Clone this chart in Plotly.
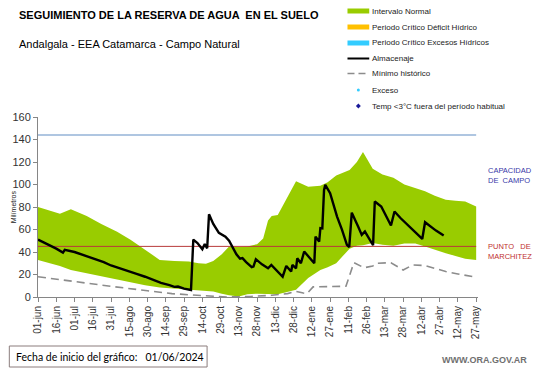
import plotly.graph_objects as go

# ---------------- data ----------------
TICK_DAYS = list(range(0, 361, 15))
TICK_LABELS = ["01-jun", "16-jun", "01-jul", "16-jul", "31-jul", "15-ago", "30-ago",
               "14-sep", "29-sep", "14-oct", "29-oct", "13-nov", "28-nov", "13-dic",
               "28-dic", "12-ene", "27-ene", "11-feb", "26-feb", "13-mar", "28-mar",
               "12-abr", "27-abr", "12-may", "27-may"]

BAND_DAYS = [0, 10, 18, 27, 40, 52, 65, 76, 88, 100, 112, 124, 132, 138, 144, 151, 157,
             165, 172, 180, 185, 189, 192, 197, 203, 212, 222, 232, 238, 245, 256, 262,
             267, 275, 283, 292, 301, 310, 318, 326, 335, 343, 351, 360]
BAND_UPPER = [80, 77, 74, 78, 72, 65, 58, 51, 42, 33, 32, 31.5, 30, 29.5, 32, 38, 45,
              44.5, 45, 47, 52, 68, 72, 73, 85, 103, 98, 99, 102, 108, 113, 120,
              129, 114, 109, 106, 100, 97, 94, 90, 86.5, 85.5, 85, 80.5]
BAND_LOWER = [33, 30, 27.5, 24, 21, 18.5, 15.5, 13, 10.5, 8.5, 7.5, 6.5, 6, 6, 5, 3, 1.5,
              0.5, 2.5, 3, 3, 3, 3, 2.5, 4, 6.5, 17, 24, 26.5, 30, 43, 45.5,
              46, 48, 46.5, 45.5, 47.5, 47.5, 45, 42.5, 39, 36.5, 34, 33]

MIN_DAYS = [0, 30, 60, 90, 110, 124, 140, 155, 175, 192, 205, 212, 218, 221, 226, 250,
            253, 259.5, 268, 275, 278, 290, 300, 308, 318, 326, 335, 345, 360]
MIN_VALS = [18, 13.5, 9.5, 5.5, 3, 2, 1, 0, 0.5, 1.5, 3, 5, 3.5, 3, 9, 9,
            9.5, 30.5, 26, 27.5, 30, 30.5, 24, 28.5, 28, 25.5, 22.6, 20.5, 17.5]

ALM_DAYS = [0, 5, 10, 15, 20.5, 22, 30, 40.7, 47, 54, 60, 67.7, 75, 81, 88, 94.7, 101,
            108, 112, 115, 120, 125.7, 127.6, 131, 135, 137, 138, 139, 140.5, 144,
            148.6, 152, 154, 157, 160, 163, 166, 168, 171, 175.6, 177, 179, 184, 189,
            191.7, 196, 201, 204, 208, 209, 212, 213, 216, 218.7, 223, 227, 228, 231,
            232, 233.6, 235, 236, 240, 245.7, 249.8, 253.8, 255.7, 257.8, 263, 266,
            268.6, 274, 275.3, 276.7, 282, 290, 292.9, 298, 315.7, 318, 324, 327, 333.3]
ALM_VALS = [51, 48.5, 46, 43, 39.5, 42, 40, 36, 34, 31, 28, 25, 22.5, 20.5, 18, 15, 12.5,
            10.5, 9, 9.3, 7.5, 6.2, 51, 48, 42.5, 47, 45, 43.3, 73.6, 65,
            57, 55, 53.7, 50, 44.5, 38, 34, 34.5, 31, 26.5, 27, 33.6, 29, 25.5,
            28.5, 24, 18, 27.6, 22.6, 28.5, 25.5, 34.4, 30, 40.4, 35, 30, 53.7, 49.3,
            61.2, 61, 95, 99.7, 92.3, 71.5, 59.7, 46.3, 44.3, 75, 62.6, 55.2,
            58.2, 47.8, 46, 84.9, 80.4, 63.5, 76, 70, 51.6, 66.5, 61.2, 59, 54.6]

CAPACIDAD_CAMPO = 144
PUNTO_MARCHITEZ = 45
X_MAX = 360

LEGEND_ITEMS = ["Intervalo Normal", "Periodo Crítico Déficit Hídrico",
                "Periodo Crítico Excesos Hídricos", "Almacenaje", "Mínimo histórico",
                "Exceso", "Temp <3°C fuera del período habitual"]

# ---------------- layout helpers ----------------
W, H = 541, 368
L, R, T, B = 33, 63, 117, 71
PW, PH = W - L - R, H - T - B


def px(x):
    return (x - L) / PW


def py(y):
    return (H - B - y) / PH


GREEN = "#99CC00"
FONT = "Liberation Sans, Arial, sans-serif"

fig = go.Figure()
fig.add_trace(go.Scatter(x=BAND_DAYS, y=BAND_LOWER, mode="lines", line=dict(width=0),
                         showlegend=False, hoverinfo="skip"))
fig.add_trace(go.Scatter(x=BAND_DAYS, y=BAND_UPPER, mode="lines", line=dict(width=0),
                         fill="tonexty", fillcolor=GREEN, showlegend=False))
fig.add_trace(go.Scatter(x=[0, X_MAX], y=[CAPACIDAD_CAMPO] * 2, mode="lines",
                         line=dict(color="#95B3D7", width=1.5), showlegend=False))
fig.add_trace(go.Scatter(x=[0, X_MAX], y=[PUNTO_MARCHITEZ] * 2, mode="lines",
                         line=dict(color="#B83A3A", width=1), showlegend=False))
fig.add_trace(go.Scatter(x=MIN_DAYS, y=MIN_VALS, mode="lines",
                         line=dict(color="#8C8C8C", width=1.6, dash="8px,5px"),
                         showlegend=False))
fig.add_trace(go.Scatter(x=ALM_DAYS, y=ALM_VALS, mode="lines",
                         line=dict(color="#000000", width=2.4), showlegend=False))

shapes = []
annotations = []

# title / subtitle
annotations.append(dict(x=px(12), y=py(15), xref="paper", yref="paper", xanchor="left",
                        yanchor="middle", showarrow=False,
                        text="<b>SEGUIMIENTO DE LA RESERVA DE AGUA  EN EL SUELO</b>",
                        font=dict(family=FONT, size=11, color="#000")))
annotations.append(dict(x=px(12), y=py(44), xref="paper", yref="paper", xanchor="left",
                        yanchor="middle", showarrow=False,
                        text="Andalgala - EEA Catamarca - Campo Natural",
                        font=dict(family=FONT, size=11, color="#000")))

# legend (drawn manually)
rows_y = [11, 27, 43, 58.5, 73.5, 90, 106]
sym_x0, sym_x1, text_x = 346, 368, 369
colors_bar = [GREEN, "#FFC000", "#33CCFF"]
for i in range(3):
    shapes.append(dict(type="rect", xref="paper", yref="paper",
                       x0=px(sym_x0), x1=px(sym_x1), y0=py(rows_y[i] + 2.5),
                       y1=py(rows_y[i] - 2.5), fillcolor=colors_bar[i], line=dict(width=0)))
shapes.append(dict(type="line", xref="paper", yref="paper", x0=px(sym_x0), x1=px(sym_x1),
                   y0=py(rows_y[3]), y1=py(rows_y[3]), line=dict(color="#000", width=2)))
shapes.append(dict(type="line", xref="paper", yref="paper", x0=px(sym_x0), x1=px(sym_x1),
                   y0=py(rows_y[4]), y1=py(rows_y[4]),
                   line=dict(color="#8C8C8C", width=1.5, dash="7px,4px")))
shapes.append(dict(type="circle", xref="paper", yref="paper", x0=px(355.5), x1=px(358.5),
                   y0=py(rows_y[5] + 1.5), y1=py(rows_y[5] - 1.5), fillcolor="#33CCFF",
                   line=dict(width=0)))
shapes.append(dict(type="path", xref="paper", yref="paper",
                   path="M {} {} L {} {} L {} {} L {} {} Z".format(
                       px(357), py(rows_y[6] - 2.5), px(359.5), py(rows_y[6]),
                       px(357), py(rows_y[6] + 2.5), px(354.5), py(rows_y[6])),
                   fillcolor="#1A1A99", line=dict(width=0)))
for i, txt in enumerate(LEGEND_ITEMS):
    annotations.append(dict(x=px(text_x), y=py(rows_y[i]), xref="paper",
                            yref="paper", xanchor="left", yanchor="middle", showarrow=False,
                            text=txt, font=dict(family=FONT, size=8, color="#222")))

# right side labels
annotations.append(dict(x=px(486), y=py(175), xref="paper", yref="paper", xanchor="left",
                        yanchor="middle", showarrow=False, align="left",
                        text="CAPACIDAD<br>DE  CAMPO",
                        font=dict(family=FONT, size=7.5, color="#3838A8")))
annotations.append(dict(x=px(486), y=py(251), xref="paper", yref="paper", xanchor="left",
                        yanchor="middle", showarrow=False, align="left",
                        text="PUNTO   DE<br>MARCHITEZ",
                        font=dict(family=FONT, size=7.5, color="#C03030")))

# y-axis title
annotations.append(dict(x=px(8), y=py(207), xref="paper", yref="paper", xanchor="center",
                        yanchor="middle", showarrow=False, textangle=-90,
                        text="Milímetros", font=dict(family=FONT, size=7, color="#222")))

# footer
shapes.append(dict(type="rect", xref="paper", yref="paper", x0=px(4), x1=px(204),
                   y0=py(367), y1=py(346), line=dict(color="#8B7D7D", width=1),
                   fillcolor="rgba(0,0,0,0)"))
annotations.append(dict(x=px(9), y=py(357), xref="paper", yref="paper", xanchor="left",
                        yanchor="middle", showarrow=False,
                        text="Fecha de inicio del gráfico:   01/06/2024",
                        font=dict(family="Lato, Carlito, sans-serif", size=10.5,
                                  color="#000")))
annotations.append(dict(x=px(530), y=py(360), xref="paper", yref="paper", xanchor="right",
                        yanchor="middle", showarrow=False, text="<b>WWW.ORA.GOV.AR</b>",
                        font=dict(family=FONT, size=9, color="#707070")))

fig.update_layout(
    width=W, height=H,
    margin=dict(l=L, r=R, t=T, b=B),
    paper_bgcolor="white", plot_bgcolor="white",
    showlegend=False,
    shapes=shapes, annotations=annotations,
    font=dict(family=FONT, color="#333"),
    xaxis=dict(range=[0, X_MAX + 1.5], tickmode="array", tickvals=TICK_DAYS,
               ticktext=TICK_LABELS, tickangle=-90, ticks="outside", ticklen=4,
               tickcolor="#868686", showline=True, linecolor="#868686", linewidth=1,
               showgrid=False, zeroline=False, tickfont=dict(size=10, color="#333")),
    yaxis=dict(range=[0, 160], dtick=20, ticks="outside", ticklen=4,
               tickcolor="#868686", showline=True, linecolor="#868686", linewidth=1,
               showgrid=False, zeroline=False, tickfont=dict(size=11, color="#333")),
)

fig.write_html("out.html",
               config={"displayModeBar": False},
               post_script="document.body.style.margin='0';"
                           "document.body.style.overflow='hidden';")
